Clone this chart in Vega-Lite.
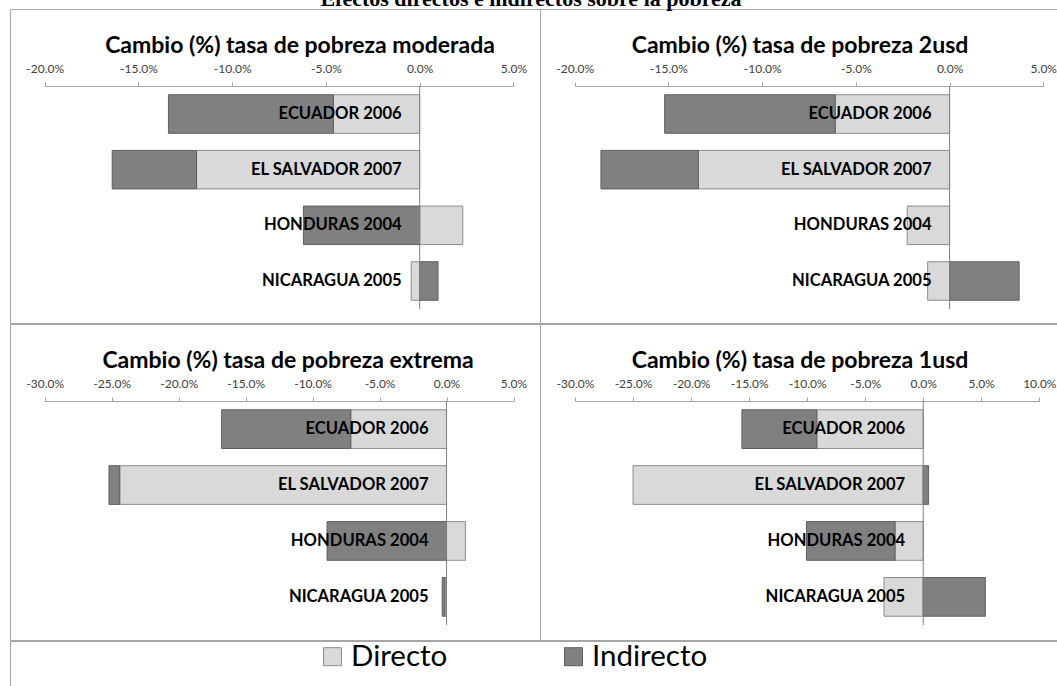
{
  "$schema": "https://vega.github.io/schema/vega-lite/v6.json",
  "background": "white",
  "padding": {"left": 9, "top": -13, "right": -5, "bottom": -3},
  "title": {
    "text": "Efectos directos e indirectos sobre la pobreza",
    "font": "Liberation Serif",
    "fontSize": 22,
    "fontWeight": "bold",
    "color": "#000000",
    "baseline": "alphabetic",
    "anchor": "middle",
    "frame": "bounds",
    "offset": -19,
    "dx": -5
  },
  "data": {
    "values": [
      {"panel": "moderada", "pais": "ECUADOR 2006", "componente": "Directo", "valor": -0.046},
      {"panel": "moderada", "pais": "ECUADOR 2006", "componente": "Indirecto", "valor": -0.088},
      {"panel": "moderada", "pais": "EL SALVADOR 2007", "componente": "Directo", "valor": -0.119},
      {"panel": "moderada", "pais": "EL SALVADOR 2007", "componente": "Indirecto", "valor": -0.045},
      {"panel": "moderada", "pais": "HONDURAS 2004", "componente": "Directo", "valor": 0.023},
      {"panel": "moderada", "pais": "HONDURAS 2004", "componente": "Indirecto", "valor": -0.062},
      {"panel": "moderada", "pais": "NICARAGUA 2005", "componente": "Directo", "valor": -0.0045},
      {"panel": "moderada", "pais": "NICARAGUA 2005", "componente": "Indirecto", "valor": 0.0098},
      {"panel": "2usd", "pais": "ECUADOR 2006", "componente": "Directo", "valor": -0.061},
      {"panel": "2usd", "pais": "ECUADOR 2006", "componente": "Indirecto", "valor": -0.091},
      {"panel": "2usd", "pais": "EL SALVADOR 2007", "componente": "Directo", "valor": -0.134},
      {"panel": "2usd", "pais": "EL SALVADOR 2007", "componente": "Indirecto", "valor": -0.052},
      {"panel": "2usd", "pais": "HONDURAS 2004", "componente": "Directo", "valor": -0.0226},
      {"panel": "2usd", "pais": "NICARAGUA 2005", "componente": "Directo", "valor": -0.0117},
      {"panel": "2usd", "pais": "NICARAGUA 2005", "componente": "Indirecto", "valor": 0.0371},
      {"panel": "extrema", "pais": "ECUADOR 2006", "componente": "Directo", "valor": -0.0715},
      {"panel": "extrema", "pais": "ECUADOR 2006", "componente": "Indirecto", "valor": -0.0964},
      {"panel": "extrema", "pais": "EL SALVADOR 2007", "componente": "Directo", "valor": -0.244},
      {"panel": "extrema", "pais": "EL SALVADOR 2007", "componente": "Indirecto", "valor": -0.008},
      {"panel": "extrema", "pais": "HONDURAS 2004", "componente": "Directo", "valor": 0.0141},
      {"panel": "extrema", "pais": "HONDURAS 2004", "componente": "Indirecto", "valor": -0.0892},
      {"panel": "extrema", "pais": "NICARAGUA 2005", "componente": "Directo", "valor": -0.0012},
      {"panel": "extrema", "pais": "NICARAGUA 2005", "componente": "Indirecto", "valor": -0.002},
      {"panel": "1usd", "pais": "ECUADOR 2006", "componente": "Directo", "valor": -0.0917},
      {"panel": "1usd", "pais": "ECUADOR 2006", "componente": "Indirecto", "valor": -0.0645},
      {"panel": "1usd", "pais": "EL SALVADOR 2007", "componente": "Directo", "valor": -0.25},
      {"panel": "1usd", "pais": "EL SALVADOR 2007", "componente": "Indirecto", "valor": 0.0046},
      {"panel": "1usd", "pais": "HONDURAS 2004", "componente": "Directo", "valor": -0.0243},
      {"panel": "1usd", "pais": "HONDURAS 2004", "componente": "Indirecto", "valor": -0.0763},
      {"panel": "1usd", "pais": "NICARAGUA 2005", "componente": "Directo", "valor": -0.0338},
      {"panel": "1usd", "pais": "NICARAGUA 2005", "componente": "Indirecto", "valor": 0.0535}
    ]
  },
  "spacing": -1,
  "vconcat": [
    {
      "spacing": 0,
      "bounds": "flush",
      "hconcat": [
        {
          "width": 530,
          "height": 314,
          "title": {"text": "Cambio (%)  tasa de pobreza moderada", "font": "Lato", "fontSize": 23, "fontWeight": "bold", "color": "#000000", "anchor": "middle", "frame": "group", "baseline": "alphabetic", "offset": -67, "dx": 25},
          "resolve": {"scale": {"y": "independent"}},
          "layer": [
            {
              "transform": [{"filter": "datum.panel === 'moderada'"}],
              "mark": {"type": "bar", "strokeWidth": 1},
              "encoding": {
                "x": {"field": "valor", "type": "quantitative", "stack": "zero",
                  "scale": {"domain": [-0.2, 0.05], "range": [34.7, 503.4], "nice": false, "zero": false},
                  "axis": {"orient": "top", "offset": -77, "values": [-0.2, -0.15, -0.1, -0.05, 0, 0.05], "format": ".1%", "labelExpr": "replace(datum.label, '\u2212', '-')", "labelFont": "Lato", "labelFontSize": 12, "labelColor": "#404040", "labelPadding": 7, "labelFlush": false, "labelOverlap": false, "tickSize": 4, "tickColor": "#a6a6a6", "domainColor": "#a6a6a6", "grid": false, "title": null}},
                "y": {"field": "pais", "type": "nominal", "sort": ["ECUADOR 2006", "EL SALVADOR 2007", "HONDURAS 2004", "NICARAGUA 2005"],
                  "scale": {"range": [77, 300], "paddingInner": 0.308, "paddingOuter": 0.157}, "axis": null},
                "color": {"field": "componente", "type": "nominal", "scale": {"domain": ["Directo", "Indirecto"], "range": ["#d9d9d9", "#808080"]}, "legend": null},
                "stroke": {"field": "componente", "type": "nominal", "scale": {"domain": ["Directo", "Indirecto"], "range": ["#8c8c8c", "#5e5e5e"]}, "legend": null}
              }
            },
            {
              "data": {"values": [{"z": 0}]},
              "mark": {"type": "rule", "color": "#808080", "strokeWidth": 1},
              "encoding": {
                "x": {"datum": 0, "type": "quantitative"},
                "y": {"datum": 0, "type": "quantitative", "scale": {"domain": [0, 1], "range": [77, 300]}, "axis": null},
                "y2": {"datum": 1}
              }
            },
            {
              "transform": [{"filter": "datum.panel === 'moderada' && datum.componente === 'Directo'"}],
              "mark": {"type": "text", "align": "right", "baseline": "middle", "dx": -18, "font": "Lato", "fontSize": 16.6, "fontWeight": "bold", "color": "#000000"},
              "encoding": {
                "x": {"datum": 0, "type": "quantitative"},
                "y": {"field": "pais", "type": "nominal", "sort": ["ECUADOR 2006", "EL SALVADOR 2007", "HONDURAS 2004", "NICARAGUA 2005"],
                  "scale": {"range": [77, 300], "paddingInner": 0.308, "paddingOuter": 0.157}, "axis": null},
                "text": {"field": "pais"}
              }
            }
          ]
        },
        {
          "width": 522,
          "height": 314,
          "title": {"text": "Cambio (%) tasa de pobreza 2usd", "font": "Lato", "fontSize": 23, "fontWeight": "bold", "color": "#000000", "anchor": "middle", "frame": "group", "baseline": "alphabetic", "offset": -67, "dx": -1},
          "resolve": {"scale": {"y": "independent"}},
          "layer": [
            {
              "transform": [{"filter": "datum.panel === '2usd'"}],
              "mark": {"type": "bar", "strokeWidth": 1},
              "encoding": {
                "x": {"field": "valor", "type": "quantitative", "stack": "zero",
                  "scale": {"domain": [-0.2, 0.05], "range": [34.7, 503.3], "nice": false, "zero": false},
                  "axis": {"orient": "top", "offset": -77, "values": [-0.2, -0.15, -0.1, -0.05, 0, 0.05], "format": ".1%", "labelExpr": "replace(datum.label, '\u2212', '-')", "labelFont": "Lato", "labelFontSize": 12, "labelColor": "#404040", "labelPadding": 7, "labelFlush": false, "labelOverlap": false, "tickSize": 4, "tickColor": "#a6a6a6", "domainColor": "#a6a6a6", "grid": false, "title": null}},
                "y": {"field": "pais", "type": "nominal", "sort": ["ECUADOR 2006", "EL SALVADOR 2007", "HONDURAS 2004", "NICARAGUA 2005"],
                  "scale": {"range": [77, 300], "paddingInner": 0.308, "paddingOuter": 0.157}, "axis": null},
                "color": {"field": "componente", "type": "nominal", "scale": {"domain": ["Directo", "Indirecto"], "range": ["#d9d9d9", "#808080"]}, "legend": null},
                "stroke": {"field": "componente", "type": "nominal", "scale": {"domain": ["Directo", "Indirecto"], "range": ["#8c8c8c", "#5e5e5e"]}, "legend": null}
              }
            },
            {
              "data": {"values": [{"z": 0}]},
              "mark": {"type": "rule", "color": "#808080", "strokeWidth": 1},
              "encoding": {
                "x": {"datum": 0, "type": "quantitative"},
                "y": {"datum": 0, "type": "quantitative", "scale": {"domain": [0, 1], "range": [77, 300]}, "axis": null},
                "y2": {"datum": 1}
              }
            },
            {
              "transform": [{"filter": "datum.panel === '2usd' && datum.componente === 'Directo'"}],
              "mark": {"type": "text", "align": "right", "baseline": "middle", "dx": -18, "font": "Lato", "fontSize": 16.6, "fontWeight": "bold", "color": "#000000"},
              "encoding": {
                "x": {"datum": 0, "type": "quantitative"},
                "y": {"field": "pais", "type": "nominal", "sort": ["ECUADOR 2006", "EL SALVADOR 2007", "HONDURAS 2004", "NICARAGUA 2005"],
                  "scale": {"range": [77, 300], "paddingInner": 0.308, "paddingOuter": 0.157}, "axis": null},
                "text": {"field": "pais"}
              }
            }
          ]
        }
      ]
    },
    {
      "spacing": 0,
      "bounds": "flush",
      "hconcat": [
        {
          "width": 530,
          "height": 316,
          "title": {"text": "Cambio (%) tasa de pobreza extrema", "font": "Lato", "fontSize": 23, "fontWeight": "bold", "color": "#000000", "anchor": "middle", "frame": "group", "baseline": "alphabetic", "offset": -67, "dx": 13},
          "resolve": {"scale": {"y": "independent"}},
          "layer": [
            {
              "transform": [{"filter": "datum.panel === 'extrema'"}],
              "mark": {"type": "bar", "strokeWidth": 1},
              "encoding": {
                "x": {"field": "valor", "type": "quantitative", "stack": "zero",
                  "scale": {"domain": [-0.3, 0.05], "range": [34.7, 503.5], "nice": false, "zero": false},
                  "axis": {"orient": "top", "offset": -77, "values": [-0.3, -0.25, -0.2, -0.15, -0.1, -0.05, 0, 0.05], "format": ".1%", "labelExpr": "replace(datum.label, '\u2212', '-')", "labelFont": "Lato", "labelFontSize": 12, "labelColor": "#404040", "labelPadding": 7, "labelFlush": false, "labelOverlap": false, "tickSize": 4, "tickColor": "#a6a6a6", "domainColor": "#a6a6a6", "grid": false, "title": null}},
                "y": {"field": "pais", "type": "nominal", "sort": ["ECUADOR 2006", "EL SALVADOR 2007", "HONDURAS 2004", "NICARAGUA 2005"],
                  "scale": {"range": [77, 301], "paddingInner": 0.308, "paddingOuter": 0.157}, "axis": null},
                "color": {"field": "componente", "type": "nominal", "scale": {"domain": ["Directo", "Indirecto"], "range": ["#d9d9d9", "#808080"]}, "legend": null},
                "stroke": {"field": "componente", "type": "nominal", "scale": {"domain": ["Directo", "Indirecto"], "range": ["#8c8c8c", "#5e5e5e"]}, "legend": null}
              }
            },
            {
              "data": {"values": [{"z": 0}]},
              "mark": {"type": "rule", "color": "#808080", "strokeWidth": 1},
              "encoding": {
                "x": {"datum": 0, "type": "quantitative"},
                "y": {"datum": 0, "type": "quantitative", "scale": {"domain": [0, 1], "range": [77, 301]}, "axis": null},
                "y2": {"datum": 1}
              }
            },
            {
              "transform": [{"filter": "datum.panel === 'extrema' && datum.componente === 'Directo'"}],
              "mark": {"type": "text", "align": "right", "baseline": "middle", "dx": -18, "font": "Lato", "fontSize": 16.6, "fontWeight": "bold", "color": "#000000"},
              "encoding": {
                "x": {"datum": 0, "type": "quantitative"},
                "y": {"field": "pais", "type": "nominal", "sort": ["ECUADOR 2006", "EL SALVADOR 2007", "HONDURAS 2004", "NICARAGUA 2005"],
                  "scale": {"range": [77, 301], "paddingInner": 0.308, "paddingOuter": 0.157}, "axis": null},
                "text": {"field": "pais"}
              }
            }
          ]
        },
        {
          "width": 522,
          "height": 316,
          "title": {"text": "Cambio (%) tasa de pobreza 1usd", "font": "Lato", "fontSize": 23, "fontWeight": "bold", "color": "#000000", "anchor": "middle", "frame": "group", "baseline": "alphabetic", "offset": -67, "dx": -1},
          "resolve": {"scale": {"y": "independent"}},
          "layer": [
            {
              "transform": [{"filter": "datum.panel === '1usd'"}],
              "mark": {"type": "bar", "strokeWidth": 1},
              "encoding": {
                "x": {"field": "valor", "type": "quantitative", "stack": "zero",
                  "scale": {"domain": [-0.3, 0.1], "range": [35, 499.3], "nice": false, "zero": false},
                  "axis": {"orient": "top", "offset": -77, "values": [-0.3, -0.25, -0.2, -0.15, -0.1, -0.05, 0, 0.05, 0.1], "format": ".1%", "labelExpr": "replace(datum.label, '\u2212', '-')", "labelFont": "Lato", "labelFontSize": 12, "labelColor": "#404040", "labelPadding": 7, "labelFlush": false, "labelOverlap": false, "tickSize": 4, "tickColor": "#a6a6a6", "domainColor": "#a6a6a6", "grid": false, "title": null}},
                "y": {"field": "pais", "type": "nominal", "sort": ["ECUADOR 2006", "EL SALVADOR 2007", "HONDURAS 2004", "NICARAGUA 2005"],
                  "scale": {"range": [77, 301], "paddingInner": 0.308, "paddingOuter": 0.157}, "axis": null},
                "color": {"field": "componente", "type": "nominal", "scale": {"domain": ["Directo", "Indirecto"], "range": ["#d9d9d9", "#808080"]}, "legend": null},
                "stroke": {"field": "componente", "type": "nominal", "scale": {"domain": ["Directo", "Indirecto"], "range": ["#8c8c8c", "#5e5e5e"]}, "legend": null}
              }
            },
            {
              "data": {"values": [{"z": 0}]},
              "mark": {"type": "rule", "color": "#808080", "strokeWidth": 1},
              "encoding": {
                "x": {"datum": 0, "type": "quantitative"},
                "y": {"datum": 0, "type": "quantitative", "scale": {"domain": [0, 1], "range": [77, 301]}, "axis": null},
                "y2": {"datum": 1}
              }
            },
            {
              "transform": [{"filter": "datum.panel === '1usd' && datum.componente === 'Directo'"}],
              "mark": {"type": "text", "align": "right", "baseline": "middle", "dx": -18, "font": "Lato", "fontSize": 16.6, "fontWeight": "bold", "color": "#000000"},
              "encoding": {
                "x": {"datum": 0, "type": "quantitative"},
                "y": {"field": "pais", "type": "nominal", "sort": ["ECUADOR 2006", "EL SALVADOR 2007", "HONDURAS 2004", "NICARAGUA 2005"],
                  "scale": {"range": [77, 301], "paddingInner": 0.308, "paddingOuter": 0.157}, "axis": null},
                "text": {"field": "pais"}
              }
            }
          ]
        }
      ]
    },
    {
      "width": 1052,
      "height": 47,
      "data": {"values": [{"componente": "Directo"}, {"componente": "Indirecto"}]},
      "layer": [
        {
          "mark": {"type": "point", "shape": "square", "filled": true, "size": 324, "strokeWidth": 1, "opacity": 1},
          "encoding": {
            "x": {"field": "componente", "type": "nominal", "scale": {"type": "point", "domain": ["Directo", "Indirecto"], "range": [322.5, 563.5], "padding": 0}, "axis": null},
            "y": {"datum": "leyenda", "type": "nominal", "scale": {"type": "point", "range": [0, 31.4]}, "axis": null},
            "color": {"field": "componente", "type": "nominal", "scale": {"domain": ["Directo", "Indirecto"], "range": ["#d9d9d9", "#808080"]}, "legend": null},
            "stroke": {"field": "componente", "type": "nominal", "scale": {"domain": ["Directo", "Indirecto"], "range": ["#8c8c8c", "#5e5e5e"]}, "legend": null}
          }
        },
        {
          "mark": {"type": "text", "align": "left", "baseline": "middle", "dx": 18.5, "font": "Lato", "fontSize": 29.5, "color": "#000000"},
          "encoding": {
            "x": {"field": "componente", "type": "nominal", "scale": {"type": "point", "domain": ["Directo", "Indirecto"], "range": [322.5, 563.5], "padding": 0}, "axis": null},
            "y": {"datum": "leyenda", "type": "nominal", "scale": {"type": "point", "range": [0, 31.4]}, "axis": null},
            "text": {"field": "componente"}
          }
        }
      ]
    }
  ],
  "config": {
    "view": {"stroke": "#a6a6a6", "strokeWidth": 1},
    "font": "Lato"
  }
}
